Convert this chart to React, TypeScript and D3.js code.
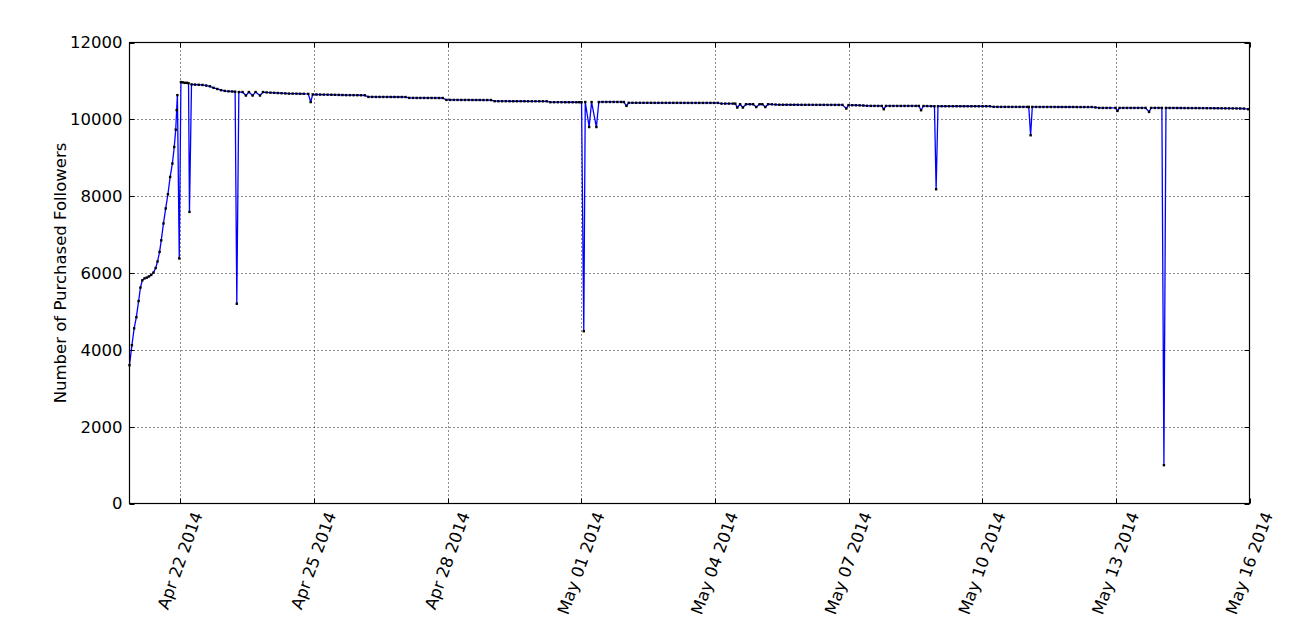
import React, { useRef, useEffect } from "react";
import * as d3 from "d3";

// readings: [hours after 2014-04-21 00:00, purchased followers]
const rampReadings: [number, number][] = [
  [-3.3, 3600], [-2.0, 4120], [-0.8, 4560], [0.4, 4850], [1.6, 5270], [2.6, 5620],
  [3.6, 5810], [4.8, 5860], [6.0, 5880], [7.2, 5910], [8.4, 5950], [9.6, 6010],
  [10.8, 6130], [11.8, 6300], [12.9, 6550], [13.8, 6850], [15.0, 7290], [16.2, 7680],
  [17.4, 8050], [18.6, 8500], [19.8, 8850], [20.8, 9280], [21.6, 9730], [22.1, 10240],
  [22.5, 10630], [23.5, 6380], [24.4, 10970],
];

const aprilReadings: [number, number][] = [
  [25.5, 10960], [26.6, 10950], [27.7, 10950], [28.5, 10940], [29.0, 7590], [30.1, 10910],
  [32, 10905], [34, 10900], [36, 10895], [38, 10880], [40, 10860], [42, 10820],
  [44, 10790], [46, 10760], [48, 10740], [50, 10730], [52, 10725], [53.6, 10720],
  [54.5, 5200], [55.6, 10710], [57.6, 10710], [59.4, 10620], [61.0, 10710], [63.0, 10620],
  [64.6, 10710], [67.0, 10620], [68.6, 10710], [70.6, 10700], [72.6, 10695], [74.6, 10690],
  [76.6, 10685], [78.6, 10680], [80.6, 10675], [82.6, 10670], [84.6, 10670], [86.6, 10668],
  [88.6, 10666], [90.6, 10665], [93.0, 10662], [94.3, 10450], [95.4, 10648], [97.4, 10646],
  [99.4, 10645], [101.4, 10644], [103.4, 10642], [105.4, 10640], [107.4, 10638], [109.4, 10636],
  [111.4, 10633], [113.4, 10630], [115.4, 10630], [117.4, 10629], [119.4, 10628], [121.4, 10627],
  [123.4, 10626], [125.4, 10584], [127.4, 10584], [129.4, 10583], [131.4, 10583], [133.4, 10583],
  [135.4, 10582], [137.4, 10582], [139.4, 10582], [141.4, 10581], [143.4, 10581], [145.4, 10580],
  [147.4, 10558], [149.4, 10558], [151.4, 10557], [153.4, 10557], [155.4, 10557], [157.4, 10556],
  [159.4, 10556], [161.4, 10556], [163.4, 10555], [165.4, 10555], [167.4, 10506], [169.4, 10505],
  [171.4, 10505], [173.4, 10505], [175.4, 10504], [177.4, 10504], [179.4, 10504], [181.4, 10503],
  [183.4, 10503], [185.4, 10503], [187.4, 10502], [189.4, 10502], [191.4, 10502], [193.4, 10472],
  [195.4, 10472], [197.4, 10472], [199.4, 10472], [201.4, 10471], [203.4, 10471], [205.4, 10471],
  [207.4, 10471], [209.4, 10471], [211.4, 10470], [213.4, 10470], [215.4, 10470], [217.4, 10470],
  [219.4, 10470], [221.4, 10470], [223.4, 10446], [225.4, 10446], [227.4, 10446], [229.4, 10446],
  [231.4, 10445], [233.4, 10445], [235.4, 10445], [237.4, 10445], [239.0, 10445],
];

const mayReadings: [number, number][] = [
  [240.2, 10445], [241.4, 4485], [242.2, 10450], [244.3, 9800], [245.6, 10450], [248.2, 9800],
  [249.5, 10450], [251.5, 10452], [253.5, 10452], [255.5, 10452], [257.5, 10452], [259.5, 10452],
  [261.5, 10452], [263.0, 10450], [264.4, 10350], [265.6, 10430], [267.6, 10430], [269.6, 10430],
  [271.6, 10430], [273.6, 10430], [275.6, 10430], [277.6, 10430], [279.6, 10429], [281.6, 10429],
  [283.6, 10429], [285.6, 10429], [287.6, 10429], [289.6, 10429], [291.6, 10429], [293.6, 10429],
  [295.6, 10428], [297.6, 10428], [299.6, 10428], [301.6, 10428], [303.6, 10428], [305.6, 10428],
  [307.6, 10428], [309.6, 10428], [311.6, 10428], [313.6, 10428], [315.6, 10410], [317.6, 10410],
  [319.6, 10410], [321.6, 10410], [323.0, 10410], [324.1, 10307], [325.6, 10393], [327.1, 10307],
  [328.8, 10393], [330.8, 10393], [332.6, 10393], [334.3, 10320], [336.1, 10393], [337.6, 10393],
  [339.2, 10320], [340.7, 10393], [342.7, 10390], [344.7, 10385], [346.7, 10380], [348.7, 10380],
  [350.7, 10380], [352.7, 10379], [354.7, 10379], [356.7, 10379], [358.7, 10378], [360.7, 10378],
  [362.7, 10378], [364.7, 10377], [366.7, 10377], [368.7, 10377], [370.7, 10377], [372.7, 10376],
  [374.7, 10376], [376.7, 10376], [378.7, 10376], [380.7, 10376], [382.8, 10281], [384.0, 10370],
  [386, 10368], [388, 10366], [390, 10364], [392, 10360], [394, 10352], [396, 10350],
  [398, 10350], [400, 10349], [401.9, 10349], [403.0, 10263], [404.2, 10349], [406.2, 10349],
  [408.2, 10349], [410.2, 10349], [412.2, 10349], [414.2, 10349], [416.2, 10349], [418.2, 10349],
  [420.2, 10349], [421.9, 10349], [423.1, 10237], [424.4, 10347], [426.4, 10345], [428.4, 10343],
  [430.3, 10341], [431.2, 8181], [432.2, 10341], [434.2, 10341], [436.2, 10341], [438.2, 10341],
  [440.2, 10341], [442.2, 10341], [444.2, 10341], [446.2, 10340], [448.2, 10340], [450.2, 10340],
  [452.2, 10340], [454.2, 10340], [456.2, 10340], [458.2, 10340], [460.2, 10340], [462.2, 10325],
  [464.2, 10324], [466.2, 10324], [468.2, 10324], [470.2, 10324], [472.2, 10323], [474.2, 10323],
  [476.2, 10323], [478.2, 10323], [480.2, 10323], [481.1, 10323], [482.1, 9586], [483.0, 10323],
  [485, 10323], [487, 10322], [489, 10322], [491, 10322], [493, 10322], [495, 10322],
  [497, 10321], [499, 10321], [501, 10321], [503, 10321], [505, 10321], [507, 10320],
  [509, 10320], [511, 10320], [513, 10320], [515, 10320], [517, 10310], [519, 10297],
  [521, 10297], [523, 10297], [525, 10297], [527.8, 10297], [528.9, 10219], [530, 10297],
  [532, 10297], [534, 10297], [536, 10297], [538, 10297], [540, 10297], [542, 10297],
  [544, 10297], [545.9, 10193], [547, 10297], [549, 10297], [551, 10297], [552.8, 10297],
  [553.9, 997], [555.0, 10297], [557, 10296], [559, 10296], [561, 10295], [563, 10295],
  [565, 10294], [567, 10294], [569, 10293], [571, 10293], [573, 10292], [575, 10292],
  [577, 10291], [579, 10290], [581, 10289], [583, 10288], [585, 10287], [587, 10286],
  [589, 10285], [591, 10284], [593, 10283], [595, 10282], [597, 10280], [599.3, 10263],
];

const yTicks = [0, 2000, 4000, 6000, 8000, 10000, 12000];
const xTickDates = [
  "2014-04-22", "2014-04-25", "2014-04-28", "2014-05-01", "2014-05-04",
  "2014-05-07", "2014-05-10", "2014-05-13", "2014-05-16",
];
const yLabel = "Number of Purchased Followers";
const baseDate = "2014-04-21";
const endDate = "2014-05-16";

const FONT = "'DejaVu Sans', sans-serif";
const FONT_SIZE = "16.5px";

const App = () => {
  const svgRef = useRef<SVGSVGElement>(null);

  useEffect(() => {
    const svg = d3.select(svgRef.current);
    const width = 1307;
    const height = 635;
    const margin = { top: 42.5, right: 57.5, bottom: 131.5, left: 129.5 };

    svg.selectAll("*").remove();

    const parse = d3.timeParse("%Y-%m-%d");
    const base = parse(baseDate)!.getTime();
    const toDate = (h: number) => new Date(base + h * 3600 * 1000);
    const data = [...rampReadings, ...aprilReadings, ...mayReadings].map(([h, v]) => ({
      date: toDate(h),
      value: v,
    }));

    const x = d3
      .scaleTime()
      .domain([data[0].date, parse(endDate)!])
      .range([margin.left, width - margin.right]);

    const y = d3
      .scaleLinear()
      .domain([0, 12000])
      .range([height - margin.bottom, margin.top]);

    const x0 = margin.left;
    const x1 = width - margin.right;
    const y0 = height - margin.bottom;
    const y1 = margin.top;

    svg.append("rect").attr("width", width).attr("height", height).attr("fill", "#fff");

    const xTicks = xTickDates.map((d) => parse(d)!);

    // grid
    const grid = svg.append("g").attr("stroke", "#000").attr("stroke-width", 0.9)
      .attr("stroke-dasharray", "1,3");
    grid.selectAll("line.gy")
      .data(yTicks.slice(1, -1))
      .join("line")
      .attr("x1", x0).attr("x2", x1)
      .attr("y1", (d) => Math.round(y(d)) + 0.5)
      .attr("y2", (d) => Math.round(y(d)) + 0.5);
    grid.selectAll("line.gx")
      .data(xTicks.slice(0, -1))
      .join("line")
      .attr("class", "gx")
      .attr("y1", y1).attr("y2", y0)
      .attr("x1", (d) => Math.round(x(d)) + 0.5)
      .attr("x2", (d) => Math.round(x(d)) + 0.5);

    // line
    const line = d3
      .line<{ date: Date; value: number }>()
      .x((d) => x(d.date))
      .y((d) => y(d.value));

    svg.append("path")
      .datum(data)
      .attr("fill", "none")
      .attr("stroke", "#0000ff")
      .attr("stroke-width", 1.3)
      .attr("stroke-linejoin", "round")
      .attr("d", line);

    svg.append("g")
      .selectAll("rect")
      .data(data)
      .join("rect")
      .attr("x", (d) => x(d.date) - 1.2)
      .attr("y", (d) => y(d.value) - 1.2)
      .attr("width", 2.4)
      .attr("height", 2.4)
      .attr("fill", "#000");

    // spines
    svg.append("rect")
      .attr("x", x0).attr("y", y1)
      .attr("width", x1 - x0).attr("height", y0 - y1)
      .attr("fill", "none").attr("stroke", "#000").attr("stroke-width", 1.2);

    // ticks (inward, all four sides)
    const ticks = svg.append("g").attr("stroke", "#000").attr("stroke-width", 1);
    yTicks.forEach((t) => {
      const yy = Math.round(y(t)) + 0.5;
      ticks.append("line").attr("x1", x0).attr("x2", x0 + 5).attr("y1", yy).attr("y2", yy);
      ticks.append("line").attr("x1", x1).attr("x2", x1 - 5).attr("y1", yy).attr("y2", yy);
    });
    xTicks.forEach((t) => {
      const xx = Math.round(x(t)) + 0.5;
      ticks.append("line").attr("x1", xx).attr("x2", xx).attr("y1", y0).attr("y2", y0 - 5);
      ticks.append("line").attr("x1", xx).attr("x2", xx).attr("y1", y1).attr("y2", y1 + 5);
    });

    // y tick labels
    svg.append("g")
      .selectAll("text")
      .data(yTicks)
      .join("text")
      .attr("x", x0 - 7)
      .attr("y", (d) => y(d))
      .attr("dy", "0.36em")
      .attr("text-anchor", "end")
      .style("font-family", FONT)
      .style("font-size", FONT_SIZE)
      .text((d) => String(d));

    // x tick labels, rotated 70 degrees
    const fmt = d3.timeFormat("%b %d %Y");
    const rad = (70 * Math.PI) / 180;
    svg.append("g")
      .selectAll("text")
      .data(xTicks)
      .join("text")
      .attr("text-anchor", "middle")
      .attr("dominant-baseline", "central")
      .style("font-family", FONT)
      .style("font-size", FONT_SIZE)
      .text((d) => fmt(d))
      .each(function (d) {
        const el = this as SVGTextElement;
        const len = el.getComputedTextLength();
        const h = len * Math.sin(rad) + 19 * Math.cos(rad);
        const cx = x(d);
        const cy = y0 + 6 + h / 2;
        d3.select(el).attr("transform", `translate(${cx},${cy}) rotate(-70)`);
      });

    // y axis label
    svg.append("text")
      .attr("transform", `translate(60,${(y0 + y1) / 2}) rotate(-90)`)
      .attr("text-anchor", "middle")
      .attr("dominant-baseline", "central")
      .style("font-family", FONT)
      .style("font-size", FONT_SIZE)
      .text(yLabel);
  }, []);

  return (
    <svg
      ref={svgRef}
      width={1307}
      height={635}
      style={{ position: "absolute", left: 0, top: 0 }}
    />
  );
};

export default App;
